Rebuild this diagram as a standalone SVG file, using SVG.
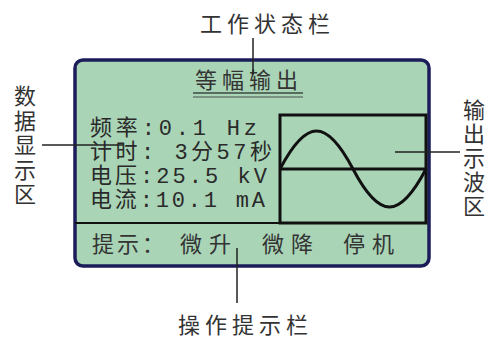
<svg xmlns="http://www.w3.org/2000/svg" width="490" height="342" viewBox="0 0 490 342">
<style>
.lbl{font-family:"Noto Sans CJK SC","Liberation Serif",serif;font-size:22px;fill:#333}
.vert{writing-mode:vertical-rl;text-orientation:upright}
.lcd{font-family:"Liberation Mono","Noto Sans CJK SC",monospace;font-size:22px;fill:#2a2a2a}
.ln{stroke:#222;stroke-width:1.5;fill:none}
.blk{stroke:#111;stroke-width:3;fill:none}
</style>
<rect width="490" height="342" fill="#ffffff"/>
<g id="lcd-panel">
<rect x="75" y="60" width="354" height="206" rx="8" ry="8" fill="#a9d4b6" stroke="#1c1c5a" stroke-width="3.5"/>
<line x1="75" y1="223" x2="280" y2="223" stroke="#111" stroke-width="2"/>
</g>
<g id="status-bar">
<text class="lbl" x="195" y="88" letter-spacing="5">等幅输出</text>
<line x1="193" y1="93" x2="303" y2="93" stroke="#3b4a40" stroke-width="1.5"/>
<line x1="193" y1="97" x2="303" y2="97" stroke="#6a7d70" stroke-width="1.5"/>
</g>
<g id="data-area">
<text class="lcd" x="90" y="135" textLength="167" lengthAdjust="spacing">频率:0.1  Hz</text>
<text class="lcd" x="90" y="159" textLength="182" lengthAdjust="spacing">计时: 3分57秒</text>
<text class="lcd" x="90" y="183" textLength="177" lengthAdjust="spacing">电压:25.5 kV</text>
<text class="lcd" x="90" y="207" textLength="175" lengthAdjust="spacing">电流:10.1 mA</text>
</g>
<g id="wave-area">
<rect x="280" y="115" width="146" height="108" class="blk"/>
<line x1="280" y1="169" x2="426" y2="169" class="blk"/>
<path d="M280,169 C306.6,118.3 326.4,118.3 353,169 C379.6,219.7 399.4,219.7 426,169" class="blk"/>
</g>
<g id="hint-bar">
<text class="lbl" x="92" y="252" letter-spacing="3">提示：</text>
<text class="lbl" x="180" y="252" letter-spacing="7">微升</text>
<text class="lbl" x="262" y="252" letter-spacing="7">微降</text>
<text class="lbl" x="343" y="252" letter-spacing="7">停机</text>
</g>
<g id="label-status">
<text class="lbl" x="200" y="32" letter-spacing="5">工作状态栏</text>
</g>
<g id="label-data">
<text class="lbl vert" x="25" y="85" letter-spacing="2.5">数据显示区</text>
</g>
<g id="label-wave">
<text class="lbl vert" x="474" y="99" font-size="21" letter-spacing="2">输出示波区</text>
</g>
<g id="label-hint">
<text class="lbl" x="178" y="333" letter-spacing="5">操作提示栏</text>
</g>
<g id="connectors">
<line x1="253" y1="38" x2="253" y2="75" class="ln"/>
<line x1="42" y1="145" x2="123" y2="145" class="ln"/>
<line x1="395" y1="152" x2="460" y2="152" class="ln"/>
<line x1="237" y1="248" x2="237" y2="303" class="ln"/>
</g>
</svg>
